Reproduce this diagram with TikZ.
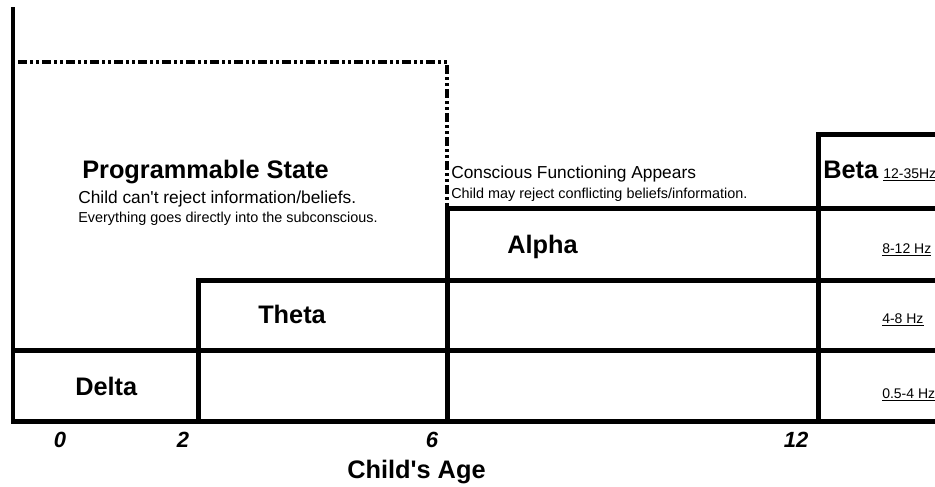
\documentclass[tikz,border=0pt]{standalone}
\usepackage{fontspec}
\setmainfont{Liberation Sans}
\begin{document}
\begin{tikzpicture}[x = 0.75pt, y = -0.75pt,
        band/.style = {line width = 3.75pt, line cap = rect, line join = miter},
        wave/.style = {font = \fontsize{19}{22}\selectfont\bfseries, anchor = base west, inner sep = 0pt},
        note/.style = {font = \fontsize{13}{15}\selectfont, anchor = base west, inner sep = 0pt},
        small/.style = {font = \fontsize{10.8}{13}\selectfont, anchor = base west, inner sep = 0pt},
        hertz/.style = {font = \fontsize{10.5}{12}\selectfont, anchor = base west, inner sep = 0pt},
        age/.style = {font = \fontsize{16.5}{19}\selectfont\bfseries\itshape, anchor = base, inner sep = 0pt}]
            \useasboundingbox (0, 0) rectangle (935, 486);
            \clip (0, 0) rectangle (935, 486);
            % axis and bands
            \draw [line width = 3pt] (13, 7) -- (13, 421);
            \draw [band] (13, 421) -- (940, 421);
            \draw [band] (13, 350) -- (940, 350);
            \draw [band] (198, 421) -- (198, 280) -- (940, 280);
            \draw [band] (447, 421) -- (447, 208) -- (940, 208);
            \draw [band] (818, 421) -- (818, 134) -- (940, 134);
            % programmable period
            \draw [line width = 2.6pt, dash pattern = on 6.75pt off 2.25pt on 2.25pt off 2.25pt on 2.25pt off 2.25pt]
                (18, 62) -- (447, 62) -- (447, 208);
            \node [wave] (prog) at (82, 178) {Programmable State};
            \node [note] (reject) at (78, 203) {Child can\textquotesingle t reject information/beliefs.};
            \node [small] (subcon) at (78, 222) {Everything goes directly into the subconscious.};
            \node [note] (consc) at (451, 178) {Conscious Functioning Appears};
            \node [small] (mayrej) at (451, 198) {Child may reject conflicting beliefs/information.};
            % waves
            \node [wave] (delta) at (75, 395) {Delta};
            \node [wave] (theta) at (258, 323) {Theta};
            \node [wave] (alpha) at (507, 253) {Alpha};
            \node [wave] (beta) at (823, 178) {Beta};
            \node [hertz] (hzbeta) at (883, 178) {\underline{12-35Hz}};
            \node [hertz] (hzalpha) at (882, 253) {\underline{8-12 Hz}};
            \node [hertz] (hztheta) at (882, 323) {\underline{4-8 Hz}};
            \node [hertz] (hzdelta) at (882, 398) {\underline{0.5-4 Hz}};
            % ages
            \node [age] (a0) at (60, 447) {0};
            \node [age] (a2) at (183, 447) {2};
            \node [age] (a6) at (432, 447) {6};
            \node [age] (a12) at (796, 447) {12};
            \node [font = \fontsize{19}{22}\selectfont\bfseries, anchor = base west, inner sep = 0pt] (title) at (347, 478) {Child\textquotesingle s Age};
        \end{tikzpicture}
\end{document}
